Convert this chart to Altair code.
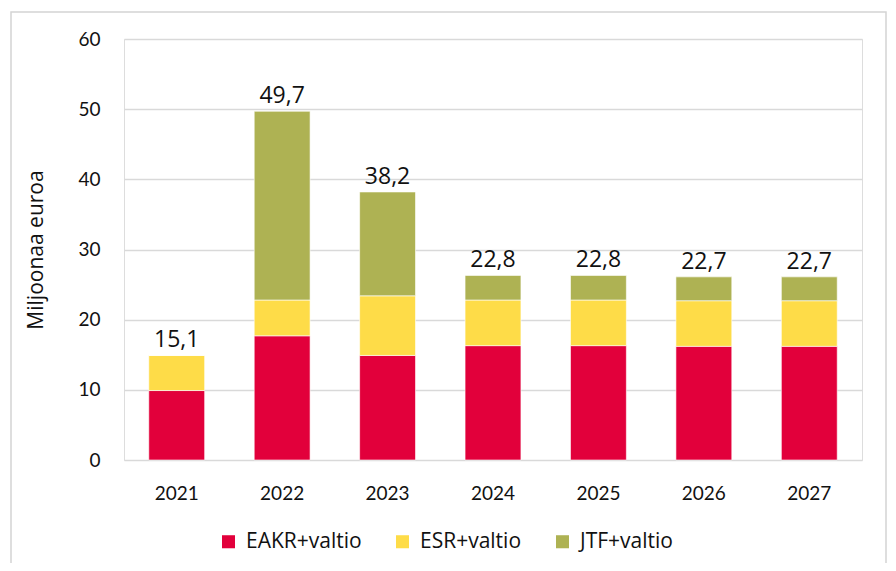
import altair as alt
import pandas as pd

years = ["2021", "2022", "2023", "2024", "2025", "2026", "2027"]
series = ["EAKR+valtio", "ESR+valtio", "JTF+valtio"]
colors = ["#E2003B", "#FEDC48", "#AEB253"]
eakr = [9.9, 17.7, 14.9, 16.3, 16.3, 16.2, 16.2]
esr = [5.0, 5.1, 8.5, 6.5, 6.5, 6.5, 6.5]
jtf = [0.0, 26.9, 14.8, 3.5, 3.5, 3.4, 3.4]
labels = ["15,1", "49,7", "38,2", "22,8", "22,8", "22,7", "22,7"]

rows = []
for i, y in enumerate(years):
    for k, (s, vals) in enumerate(zip(series, [eakr, esr, jtf])):
        rows.append({"year": y, "series": s, "value": vals[i], "idx": k})
df = pd.DataFrame(rows)

tot = pd.DataFrame({
    "year": years,
    "total": [a + b + c for a, b, c in zip(eakr, esr, jtf)],
    "label": labels,
})

x_enc = alt.X(
    "year:N", sort=years,
    scale=alt.Scale(paddingInner=0.47, paddingOuter=0.235),
    axis=alt.Axis(title=None, labelAngle=0, domain=False, ticks=False, grid=False,
                  labelPadding=24, labelFont="Lato", labelFontSize=19,
                  labelColor="#111111"),
)

bars = alt.Chart(df).mark_bar(stroke="white", strokeWidth=0.6).encode(
    x=x_enc,
    y=alt.Y(
        "value:Q", stack="zero",
        scale=alt.Scale(domain=[0, 60], nice=False),
        axis=alt.Axis(values=[0, 10, 20, 30, 40, 50, 60], title="Miljoonaa euroa",
                      domain=False, ticks=False, grid=True, gridColor="#D9D9D9",
                      gridWidth=1.5, labelPadding=24, labelFont="Lato",
                      labelFontSize=19, labelColor="#111111",
                      titleFont="Open Sans", titleFontSize=21, titleFontWeight="normal",
                      titleColor="#111111", titlePadding=31),
    ),
    color=alt.Color(
        "series:N",
        scale=alt.Scale(domain=series, range=colors),
        legend=alt.Legend(title=None, orient="none", direction="horizontal",
                          legendX=94, legendY=492, symbolType="square",
                          symbolSize=170, symbolStrokeWidth=0, labelFont="Open Sans",
                          labelFontSize=21, labelColor="#111111", labelOffset=7,
                          columnPadding=30, labelLimit=300),
    ),
    order=alt.Order("idx:Q"),
)

text = alt.Chart(tot).mark_text(
    font="Open Sans", fontSize=23, color="#111111", baseline="alphabetic", dy=-8
).encode(
    x=alt.X("year:N", sort=years),
    y=alt.Y("total:Q"),
    text="label:N",
)

frame = alt.Chart(pd.DataFrame({"a": [0]})).mark_rect(
    fillOpacity=0, stroke="#D4D4D4", strokeWidth=1.5
).encode(
    x=alt.value(-113), x2=alt.value(762), y=alt.value(-27), y2=alt.value(560)
)

chart = alt.layer(frame, bars, text).properties(
    width=738, height=421,
    autosize="none",
    padding={"left": 116, "right": 26, "top": 31, "bottom": 103},
).configure_view(stroke=None).configure(background="white")

chart.save("out.html", embed_options={"renderer": "svg", "actions": False})
